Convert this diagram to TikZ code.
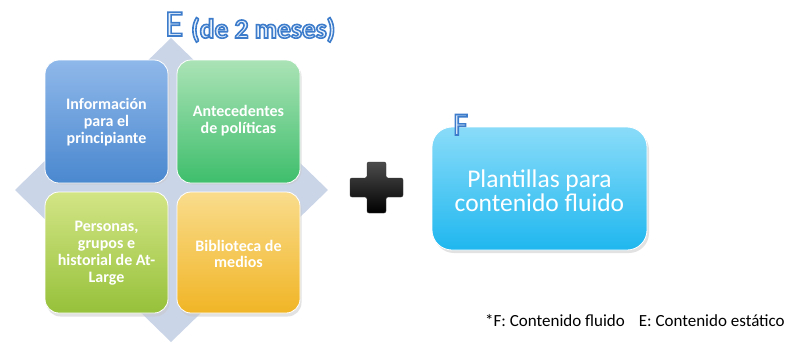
\documentclass[tikz,border=0pt]{standalone}
\usepackage{fontspec}
\setmainfont{Carlito}
\definecolor{diam}{HTML}{CBD5E8}
\definecolor{blueT}{HTML}{8FB8EA}\definecolor{blueB}{HTML}{4A88CF}
\definecolor{greenT}{HTML}{ABE3B6}\definecolor{greenB}{HTML}{3EBE6C}
\definecolor{limeT}{HTML}{D3E586}\definecolor{limeB}{HTML}{96C13A}
\definecolor{yelT}{HTML}{F9DC8C}\definecolor{yelB}{HTML}{F1B526}
\definecolor{cyanT}{HTML}{8ADCF9}\definecolor{cyanB}{HTML}{1FB7EF}
\definecolor{outl}{HTML}{3C7CCB}\definecolor{infill}{HTML}{EAF2FC}
\newcommand\outlinetext[1]{{\color{infill}\special{pdf:literal direct q 2 Tr 1.6 w 0.235 0.486 0.796 RG}#1\special{pdf:literal direct Q}}}
\begin{document}
\begin{tikzpicture}[x=1pt,y=-1pt,
  quad/.style={rounded corners=14pt, draw=white, line width=0.8pt},
  qtext/.style={text=white, font=\fontsize{16}{16.8}\selectfont\bfseries, align=center, inner sep=0pt},
  shadowbox/.style={fill=black!22, rounded corners=14pt, opacity=0.5}]
\useasboundingbox (0,0) rectangle (795,343);
\fill[white] (0,0) rectangle (795,343);
% diamond
\fill[diam] (171,38) -- (328,190) -- (171,342) -- (15,190) -- cycle;
% shadows
\foreach \x/\y in {45/60,177/60,45/192,177/192}{
  \fill[shadowbox] (\x+1.5,\y+2.5) rectangle ++(123,122);}
% quadrants
\shade[quad, top color=blueT, bottom color=blueB] (45,60) rectangle (168,183);
\shade[quad, top color=greenT, bottom color=greenB] (177,60) rectangle (300,183);
\shade[quad, top color=limeT, bottom color=limeB] (45,192) rectangle (168,313);
\shade[quad, top color=yelT, bottom color=yelB] (177,192) rectangle (300,313);
\node[qtext] (q1) at (106.5,122) {Información\\para el\\principiante};
\node[qtext] (q2) at (238.5,121) {Antecedentes\\de políticas};
\node[qtext] (q3) at (106.5,253) {Personas,\\grupos e\\historial de At-\\Large};
\node[qtext] (q4) at (238.5,254) {Biblioteca de\\medios};
% title
\node[anchor=base west, inner sep=0pt] (tE) at (165,36) {\fontsize{37}{37}\selectfont\outlinetext{E}};
\node[anchor=base west, inner sep=0pt] (tde) at (191,38) {\fontsize{27.5}{27.5}\selectfont\bfseries\outlinetext{(de 2 meses)}};
% plus
\shade[top color=black!70, bottom color=black, rounded corners=2pt, draw=black!80, line width=0.4pt]
  (367,162) -- (386,162) -- (386,178) -- (403,178) -- (403,197) -- (386,197) -- (386,213)
  -- (367,213) -- (367,197) -- (350,197) -- (350,178) -- (367,178) -- cycle;
% F box
\fill[black!22, opacity=0.5, rounded corners=20pt] (434,130) rectangle (649,253);
\shade[top color=cyanT, bottom color=cyanB, rounded corners=20pt, draw=white, line width=0.8pt] (432,127) rectangle (647,250);
\node[text=white, font=\fontsize{25.5}{24}\selectfont, align=center] (fb) at (539.5,191) {Plantillas para\\contenido fluido};
\node[anchor=base west, inner sep=0pt] (tF) at (453,135) {\fontsize{32}{32}\selectfont\outlinetext{F}};
% footnote
\node[anchor=base east, inner sep=0pt, font=\fontsize{17}{19}\selectfont] (fn) at (785,326) {*F: Contenido fluido\hspace{14pt}E: Contenido estático};
\end{tikzpicture}
\end{document}
